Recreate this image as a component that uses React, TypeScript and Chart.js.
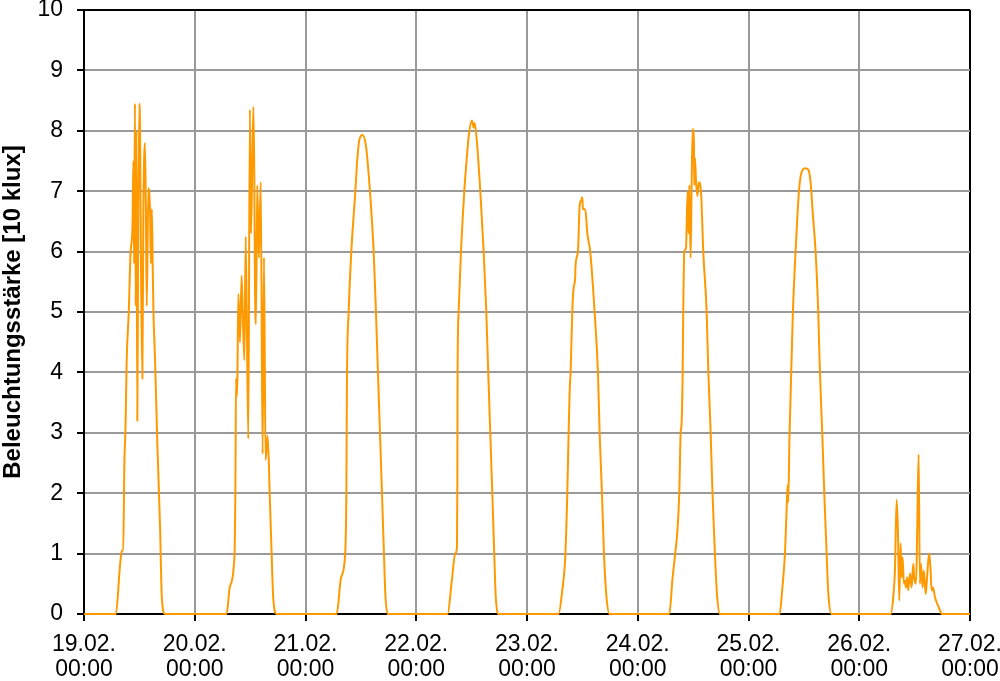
import React, { useEffect, useRef } from "react";
import { Chart, registerables } from "chart.js";

Chart.register(...registerables);

// x axis: hours since 19.02. 00:00
const dateLabels = ["19.02.", "20.02.", "21.02.", "22.02.", "23.02.", "24.02.", "25.02.", "26.02.", "27.02."];
const timeLabel = "00:00";
const yTitle = "Beleuchtungsstärke [10 klux]";

const day1Hours = [6.9, 7.8, 8.2, 8.5, 8.75, 9.0, 9.25, 9.7, 10.1, 10.5, 10.7, 10.85, 11.05, 11.2, 11.35, 11.55, 11.75, 12.0, 12.15, 12.35, 12.65, 12.85, 13.2, 13.4, 13.6, 13.95, 14.3, 14.5, 14.7, 14.9, 15.05, 15.4, 15.9, 16.5, 16.85, 17.55];
const day1Values = [0, 0.8, 1.05, 1.05, 2.5, 3.1, 4.2, 5.0, 6.0, 6.4, 7.5, 5.8, 8.45, 5.1, 8.0, 3.2, 6.5, 8.45, 8.0, 5.8, 3.9, 6.5, 7.8, 6.8, 5.1, 7.05, 6.7, 5.8, 6.7, 5.7, 5.0, 4.2, 2.8, 1.4, 0.3, 0];

const day2Hours = [30.9, 31.6, 32.6, 32.8, 32.95, 33.1, 33.25, 33.45, 33.8, 34.15, 34.4, 34.75, 35.05, 35.6, 35.95, 36.2, 36.7, 36.9, 37.05, 37.25, 37.55, 37.9, 38.3, 38.7, 39.0, 39.35, 39.8, 40.3, 40.7, 41.0, 41.75];
const day2Values = [0, 0.45, 0.96, 2.0, 3.9, 3.6, 3.95, 5.3, 4.5, 5.6, 5.0, 4.2, 6.25, 2.9, 8.35, 6.3, 8.4, 7.3, 5.45, 4.8, 7.1, 5.9, 7.15, 2.65, 5.9, 2.55, 2.95, 1.85, 0.9, 0.28, 0];

const day3Hours = [54.75, 55.7, 56.6, 56.85, 56.92, 57.0, 57.35, 57.93, 58.8, 59.2, 59.66, 60.38, 61.1, 61.5, 61.97, 62.77, 63.27, 63.7, 64.14, 64.57, 65.0, 65.3, 65.8];
const day3Values = [0, 0.6, 1.0, 2.0, 3.0, 4.0, 5.0, 6.0, 7.0, 7.5, 7.85, 7.93, 7.75, 7.45, 7.0, 6.0, 5.0, 4.0, 3.0, 2.0, 1.0, 0.33, 0];

const day4Hours = [78.8, 79.7, 80.45, 80.82, 80.9, 80.96, 81.18, 81.69, 82.41, 82.9, 83.35, 84.07, 84.44, 84.66, 85.16, 85.5, 85.88, 86.61, 87.18, 87.6, 88.04, 88.48, 88.9, 89.2, 89.86];
const day4Values = [0, 0.55, 1.0, 1.1, 2.0, 4.0, 5.0, 6.0, 7.0, 7.5, 7.9, 8.17, 8.05, 8.13, 7.8, 7.45, 7.0, 6.0, 5.0, 4.0, 3.0, 2.0, 1.0, 0.33, 0];

const day5Hours = [102.85, 103.65, 104.3, 104.73, 105.02, 105.25, 105.45, 105.81, 106.1, 106.46, 106.5, 107.04, 107.4, 107.76, 107.98, 108.13, 108.63, 109.07, 109.7, 110.65, 111.37, 111.74, 112.24, 112.68, 113.2, 113.9];
const day5Values = [0, 0.4, 0.96, 2.0, 3.0, 3.7, 4.0, 5.0, 5.4, 5.6, 5.75, 6.0, 6.75, 6.85, 6.9, 6.7, 6.7, 6.3, 6.0, 5.0, 4.0, 3.0, 2.0, 1.0, 0.3, 0];

const day6Hours = [126.83, 127.55, 128.06, 128.56, 129.0, 129.3, 129.5, 129.73, 129.86, 130.08, 130.44, 130.81, 131.03, 131.17, 131.45, 131.67, 131.9, 132.18, 132.25, 132.4, 132.61, 132.9, 133.26, 133.7, 134.2, 134.93, 135.3, 135.8, 136.2, 136.72, 137.2, 137.8];
const day6Values = [0, 0.6, 0.96, 1.35, 2.0, 3.0, 3.15, 4.0, 5.0, 6.0, 6.05, 7.0, 6.3, 7.1, 5.9, 7.05, 8.03, 7.8, 7.1, 7.55, 7.2, 6.92, 7.15, 7.0, 6.0, 5.0, 4.0, 3.0, 2.0, 1.0, 0.3, 0];

const day7Hours = [150.74, 151.3, 151.9, 152.4, 152.55, 152.6, 152.9, 153.26, 153.62, 154.2, 154.93, 155.3, 155.65, 156.23, 156.95, 157.45, 157.96, 158.54, 159.11, 159.48, 159.98, 160.42, 160.93, 161.29, 162.01];
const day7Values = [0, 0.4, 1.0, 2.0, 2.15, 1.85, 3.0, 4.0, 5.0, 6.0, 7.0, 7.25, 7.34, 7.38, 7.36, 7.15, 6.6, 6.0, 5.0, 4.0, 3.0, 2.0, 1.0, 0.35, 0];

const day8Hours = [174.8, 175.37, 175.73, 176.1, 176.38, 176.67, 176.96, 177.18, 177.39, 177.68, 177.9, 178.1, 178.4, 178.6, 179.0, 179.35, 179.7, 179.9, 180.3, 180.56, 180.86, 181.15, 181.37, 181.73, 182.0, 182.4, 182.6, 182.9, 183.17, 183.46, 183.68, 184.0, 184.4, 184.9, 185.5, 185.85];
const day8Values = [0, 0.28, 0.72, 1.89, 1.39, 0.22, 1.17, 0.61, 0.94, 0.5, 0.55, 0.44, 0.61, 0.39, 0.67, 0.44, 0.83, 0.61, 0.5, 1.39, 2.64, 0.5, 0.83, 0.44, 0.72, 0.33, 0.5, 0.83, 1.0, 0.72, 0.39, 0.44, 0.28, 0.17, 0.06, 0];

const allHours = [day1Hours, day2Hours, day3Hours, day4Hours, day5Hours, day6Hours, day7Hours, day8Hours];
const allValues = [day1Values, day2Values, day3Values, day4Values, day5Values, day6Values, day7Values, day8Values];

const FONT = "'Liberation Sans', Arial, sans-serif";

export default function App() {
  const ref = useRef<HTMLCanvasElement | null>(null);

  useEffect(() => {
    if (!ref.current) return;
    const points: { x: number; y: number }[] = [{ x: 0, y: 0 }];
    allHours.forEach((hrs, d) => {
      hrs.forEach((h, i) => points.push({ x: h, y: allValues[d][i] }));
    });
    points.push({ x: 192, y: 0 });

    const chart = new Chart(ref.current, {
      type: "line",
      data: {
        datasets: [
          {
            data: points,
            borderColor: "#FF9900",
            borderWidth: 2,
            pointRadius: 0,
            cubicInterpolationMode: "monotone",
            fill: false,
            clip: false,
          } as any,
        ],
      },
      options: {
        animation: false,
        responsive: true,
        maintainAspectRatio: false,
        layout: { padding: { top: 10, right: 30, left: 0, bottom: 0 } },
        plugins: { legend: { display: false }, tooltip: { enabled: false } },
        scales: {
          x: {
            type: "linear",
            min: 0,
            max: 192,
            afterFit: (s: any) => {
              s.height = 67;
              s.paddingLeft = 0;
              s.paddingRight = 0;
            },
            ticks: {
              stepSize: 24,
              autoSkip: false,
              maxRotation: 0,
              minRotation: 0,
              padding: 11,
              color: "#000",
              font: { family: FONT, size: 23, lineHeight: 1.087 },
              callback: (v: any) => [dateLabels[Math.round(Number(v) / 24)], timeLabel],
            },
            grid: {
              color: (c: any) => (c.tick && c.tick.value === 192 ? "#000" : "#9a9a9a"),
              lineWidth: 2,
              tickLength: 7,
              tickColor: "#000",
            },
            border: { display: true, color: "#000", width: 2 },
          },
          y: {
            min: 0,
            max: 10,
            afterFit: (s: any) => {
              s.width = 84;
              s.paddingTop = 0;
              s.paddingBottom = 0;
            },
            ticks: {
              stepSize: 1,
              padding: 14,
              color: "#000",
              font: { family: FONT, size: 23 },
            },
            grid: {
              color: (c: any) => (c.tick && c.tick.value === 10 ? "#000" : "#9a9a9a"),
              lineWidth: 2,
              tickLength: 7,
              tickColor: "#000",
            },
            border: { display: true, color: "#000", width: 2 },
            title: {
              display: true,
              text: yTitle,
              color: "#000",
              font: { family: FONT, size: 24, weight: "bold", lineHeight: 1.1 },
              padding: { top: 0, bottom: 0 },
            },
          },
        },
      },
    });
    return () => chart.destroy();
  }, []);

  return (
    <div style={{ position: "fixed", left: 0, top: 0, width: 1000, height: 681, background: "#fff" }}>
      <canvas ref={ref} />
    </div>
  );
}
